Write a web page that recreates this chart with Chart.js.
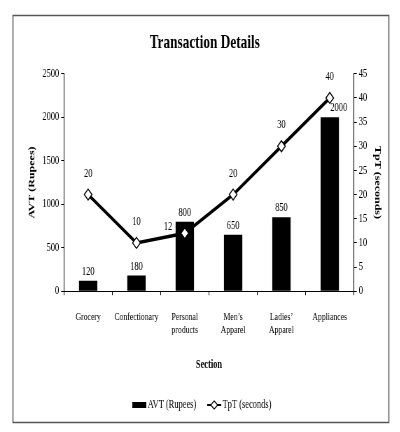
<!DOCTYPE html>
<html>
<head>
<meta charset="utf-8">
<script src="https://cdn.jsdelivr.net/npm/chart.js@4.4.0/dist/chart.umd.min.js"></script>
<style>
  html, body { margin: 0; padding: 0; background: #fff; overflow: hidden; }
  #wrap { width: 400px; height: 432px; overflow: hidden; }
  /* the reference is squeezed sideways, so draw wider and squeeze it back */
  #chart { transform: scaleX(0.7); transform-origin: 0 0; }
</style>
</head>
<body>
<div id="wrap"><canvas id="chart" width="571" height="432"></canvas></div>
<script>
// data
const sections = [["Grocery"], ["Confectionary"], ["Personal", "products"], ["Men\u2019s", "Apparel"], ["Ladies\u2019", "Apparel"], ["Appliances"]];
const avt = [120, 180, 800, 650, 850, 2000];   // AVT (Rupees), bars
const tpt = [20, 10, 12, 20, 30, 40];           // TpT (seconds), line
const avtAxis = { min: 0, max: 2500, step: 500 };
const tptAxis = { min: 0, max: 45, step: 5 };

const FONT = "'Liberation Serif', 'DejaVu Serif', serif";

// frame round the whole chart
const frame = {
  id: 'frame',
  beforeDraw(chart) {
    const ctx = chart.ctx;
    ctx.save();
    ctx.fillStyle = '#fff';
    ctx.fillRect(0, 0, chart.width, chart.height);
    ctx.strokeStyle = '#555';
    ctx.lineWidth = 1.5;
    ctx.strokeRect(18.5, 15.5, 537, 407);
    ctx.restore();
  }
};

// value labels above bars and points
const valueLabels = {
  id: 'valueLabels',
  afterDatasetsDraw(chart) {
    const ctx = chart.ctx;
    ctx.save();
    ctx.font = '12px ' + FONT;
    ctx.fillStyle = '#000';
    ctx.textAlign = 'center';
    ctx.textBaseline = 'bottom';
    chart.getDatasetMeta(1).data.forEach((bar, i) => {
      let x = bar.x;
      if (i == 5) x += 13;
      ctx.fillText(avt[i], x, bar.y - 3);
    });
    chart.getDatasetMeta(0).data.forEach((pt, i) => {
      if (i == 2) {
        ctx.fillText(tpt[i], pt.x - 24, pt.y);
      } else {
        ctx.fillText(tpt[i], pt.x, pt.y - 15);
      }
    });
    ctx.restore();
  }
};

// legend at the bottom
const bottomLegend = {
  id: 'bottomLegend',
  afterDraw(chart) {
    const ctx = chart.ctx;
    const y = 405;
    ctx.save();
    ctx.fillStyle = '#000';
    ctx.fillRect(189, y - 3, 20, 6);
    ctx.font = '12px ' + FONT;
    ctx.textBaseline = 'middle';
    ctx.textAlign = 'left';
    ctx.fillText('AVT (Rupees)', 211, y);
    ctx.strokeStyle = '#000';
    ctx.lineWidth = 2;
    ctx.beginPath();
    ctx.moveTo(296, y);
    ctx.lineTo(316, y);
    ctx.stroke();
    ctx.fillStyle = '#fff';
    ctx.lineWidth = 1.2;
    ctx.beginPath();
    ctx.moveTo(306, y - 4);
    ctx.lineTo(311, y);
    ctx.lineTo(306, y + 4);
    ctx.lineTo(301, y);
    ctx.closePath();
    ctx.fill();
    ctx.stroke();
    ctx.fillStyle = '#000';
    ctx.fillText('TpT (seconds)', 318, y);
    ctx.restore();
  }
};

new Chart(document.getElementById('chart'), {
  type: 'bar',
  data: {
    labels: sections,
    datasets: [{
      type: 'line',
      label: 'TpT (seconds)',
      data: tpt,
      yAxisID: 'y1',
      borderColor: '#000',
      borderWidth: 3.5,
      pointStyle: 'rectRot',
      pointRadius: 5.5,
      pointBackgroundColor: '#fff',
      pointBorderColor: '#000',
      pointBorderWidth: 1.3,
      tension: 0,
      order: 0
    }, {
      type: 'bar',
      label: 'AVT (Rupees)',
      data: avt,
      yAxisID: 'y',
      backgroundColor: '#000',
      barPercentage: 0.38,
      categoryPercentage: 1,
      order: 1
    }]
  },
  options: {
    responsive: false,
    animation: false,
    layout: { padding: { top: 25, left: 35, right: 21, bottom: 56 } },
    plugins: {
      legend: { display: false },
      tooltip: { enabled: false },
      title: {
        display: true,
        text: 'Transaction Details',
        color: '#000',
        font: { family: FONT, size: 19, weight: 'bold' },
        padding: { top: 7, bottom: 19 }
      }
    },
    scales: {
      x: {
        grid: { display: true, drawOnChartArea: false, drawTicks: true, tickLength: 4, color: '#000' },
        border: { display: true, color: '#000', width: 1 },
        ticks: { color: '#000', font: { family: FONT, size: 11 }, maxRotation: 0, autoSkip: false, padding: 15 },
        title: { display: true, text: 'Section', color: '#000', font: { family: FONT, size: 12, weight: 'bold' }, padding: { top: 6 } }
      },
      y: {
        position: 'left',
        min: avtAxis.min,
        max: avtAxis.max,
        grid: { display: true, drawOnChartArea: false, drawTicks: true, tickLength: 4, color: '#000' },
        border: { display: true, color: '#000', width: 1 },
        ticks: { stepSize: avtAxis.step, color: '#000', font: { family: FONT, size: 12 }, padding: 3, callback: v => String(v) },
        title: { display: true, text: 'AVT (Rupees)', color: '#000', font: { family: FONT, size: 12, weight: 'bold' }, padding: 4 }
      },
      y1: {
        position: 'right',
        min: tptAxis.min,
        max: tptAxis.max,
        grid: { display: true, drawOnChartArea: false, drawTicks: true, tickLength: 4, color: '#000' },
        border: { display: true, color: '#000', width: 1 },
        ticks: { stepSize: tptAxis.step, color: '#000', font: { family: FONT, size: 12 }, padding: 3, callback: v => String(v) },
        title: { display: true, text: 'TpT (seconds)', color: '#000', font: { family: FONT, size: 12, weight: 'bold' }, padding: 4 }
      }
    }
  },
  plugins: [frame, valueLabels, bottomLegend]
});
</script>
</body>
</html>
